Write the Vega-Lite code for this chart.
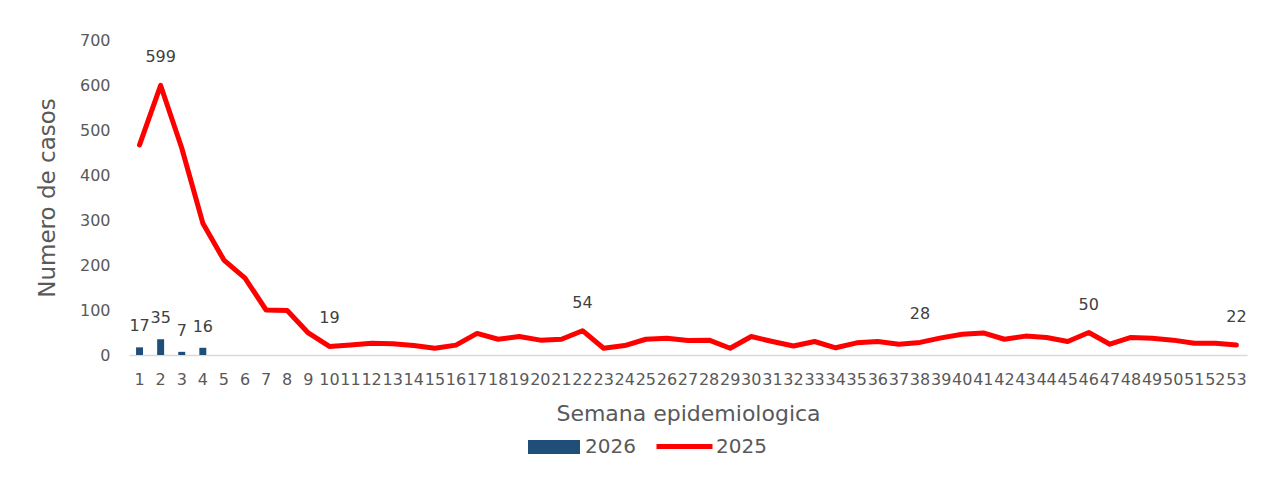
{
  "$schema": "https://vega.github.io/schema/vega-lite/v6.json",
  "width": 1118,
  "height": 315,
  "autosize": "none",
  "padding": {"left": 129, "top": 40, "right": 18, "bottom": 122},
  "background": "white",
  "config": {"view": {"stroke": null}, "font": "DejaVu Sans"},
  "data": {
    "values": [
      {"semana": 1, "c2025": 467, "c2026": 17},
      {"semana": 2, "c2025": 599, "c2026": 35},
      {"semana": 3, "c2025": 460, "c2026": 7},
      {"semana": 4, "c2025": 293, "c2026": 16},
      {"semana": 5, "c2025": 211},
      {"semana": 6, "c2025": 171},
      {"semana": 7, "c2025": 100},
      {"semana": 8, "c2025": 99},
      {"semana": 9, "c2025": 49},
      {"semana": 10, "c2025": 19},
      {"semana": 11, "c2025": 22},
      {"semana": 12, "c2025": 26},
      {"semana": 13, "c2025": 25},
      {"semana": 14, "c2025": 21},
      {"semana": 15, "c2025": 15},
      {"semana": 16, "c2025": 22},
      {"semana": 17, "c2025": 48},
      {"semana": 18, "c2025": 35},
      {"semana": 19, "c2025": 41},
      {"semana": 20, "c2025": 33},
      {"semana": 21, "c2025": 35},
      {"semana": 22, "c2025": 54},
      {"semana": 23, "c2025": 15},
      {"semana": 24, "c2025": 21},
      {"semana": 25, "c2025": 35},
      {"semana": 26, "c2025": 37},
      {"semana": 27, "c2025": 32},
      {"semana": 28, "c2025": 33},
      {"semana": 29, "c2025": 15},
      {"semana": 30, "c2025": 41},
      {"semana": 31, "c2025": 30},
      {"semana": 32, "c2025": 20},
      {"semana": 33, "c2025": 30},
      {"semana": 34, "c2025": 16},
      {"semana": 35, "c2025": 27},
      {"semana": 36, "c2025": 30},
      {"semana": 37, "c2025": 24},
      {"semana": 38, "c2025": 28},
      {"semana": 39, "c2025": 38},
      {"semana": 40, "c2025": 46},
      {"semana": 41, "c2025": 49},
      {"semana": 42, "c2025": 35},
      {"semana": 43, "c2025": 42},
      {"semana": 44, "c2025": 39},
      {"semana": 45, "c2025": 30},
      {"semana": 46, "c2025": 50},
      {"semana": 47, "c2025": 24},
      {"semana": 48, "c2025": 39},
      {"semana": 49, "c2025": 37},
      {"semana": 50, "c2025": 33},
      {"semana": 51, "c2025": 26},
      {"semana": 52, "c2025": 26},
      {"semana": 53, "c2025": 22}
    ]
  },
  "encoding": {
    "x": {
      "field": "semana",
      "type": "ordinal",
      "sort": null,
      "scale": {"paddingInner": 0, "paddingOuter": 0},
      "axis": {
        "title": "Semana epidemiologica",
        "titleFont": "DejaVu Sans",
        "titleFontSize": 22,
        "titleFontWeight": "normal",
        "titleColor": "#595959",
        "titlePadding": 16,
        "labelAngle": 0,
        "labelFontSize": 16,
        "labelColor": "#595959",
        "labelPadding": 16,
        "labelOverlap": false,
        "labelFlush": false,
        "ticks": false,
        "domainColor": "#D9D9D9",
        "domainWidth": 1.5,
        "grid": false
      }
    }
  },
  "layer": [
    {
      "transform": [{"filter": "isValid(datum.c2026)"}],
      "mark": {"type": "bar", "width": {"band": 0.33}},
      "encoding": {
        "y": {
          "field": "c2026",
          "type": "quantitative",
          "scale": {"domain": [0, 700]},
          "axis": {
            "title": "Numero de casos",
            "titleFontSize": 23,
            "titleFontWeight": "normal",
            "titleColor": "#595959",
            "titlePadding": 20,
            "values": [0, 100, 200, 300, 400, 500, 600, 700],
            "labelFontSize": 16,
            "labelColor": "#595959",
            "labelPadding": 19,
            "ticks": false,
            "domain": false,
            "grid": false
          }
        },
        "fill": {
          "datum": "2026",
          "scale": {"range": ["#1F4E79"]},
          "legend": {
            "orient": "none",
            "legendX": 399,
            "legendY": 381,
            "title": null,
            "padding": 0,
            "symbolType": "M-1,-0.27H1V0.27H-1Z",
            "symbolSize": 2704,
            "symbolStrokeWidth": 0,
            "symbolOpacity": 1,
            "labelFontSize": 20,
            "labelColor": "#595959",
            "labelOffset": 5
          }
        }
      }
    },
    {
      "transform": [{"filter": "isValid(datum.c2026)"}],
      "mark": {"type": "text", "baseline": "bottom", "dy": -13, "fontSize": 16, "color": "#404040"},
      "encoding": {
        "y": {"field": "c2026", "type": "quantitative"},
        "text": {"field": "c2026", "type": "quantitative"}
      }
    },
    {
      "mark": {"type": "line", "strokeWidth": 5, "strokeCap": "round", "strokeJoin": "round"},
      "encoding": {
        "y": {"field": "c2025", "type": "quantitative"},
        "stroke": {
          "datum": "2025",
          "scale": {"range": ["#FF0000"]},
          "legend": {
            "orient": "none",
            "legendX": 525,
            "legendY": 376,
            "title": null,
            "padding": 0,
            "symbolType": "stroke",
            "symbolSize": 3136,
            "symbolStrokeWidth": 5,
            "symbolOpacity": 1,
            "labelFontSize": 20,
            "labelColor": "#595959",
            "labelOffset": 1
          }
        }
      }
    },
    {
      "transform": [{"filter": {"field": "semana", "oneOf": [2, 10, 22, 38, 46, 53]}}],
      "mark": {"type": "text", "baseline": "middle", "dy": -28, "fontSize": 16, "color": "#404040"},
      "encoding": {
        "y": {"field": "c2025", "type": "quantitative"},
        "text": {"field": "c2025", "type": "quantitative"}
      }
    }
  ]
}
